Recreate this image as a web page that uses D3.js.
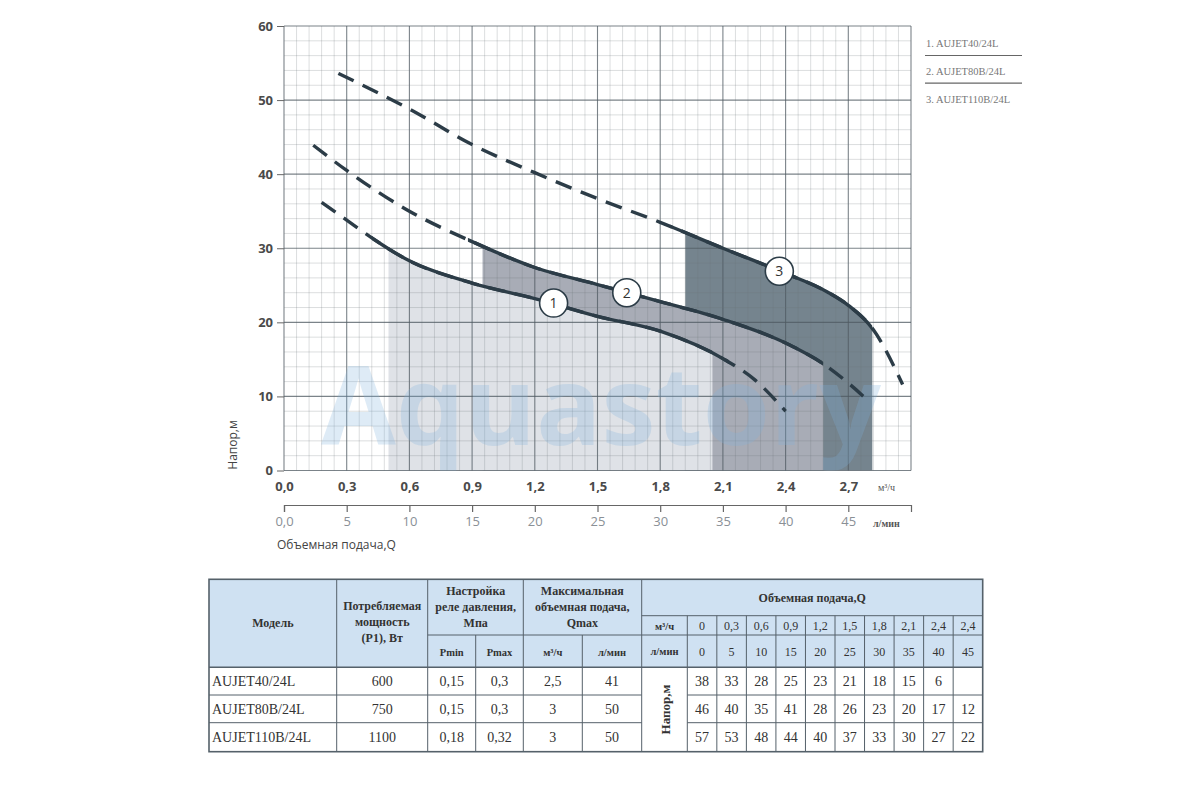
<!DOCTYPE html>
<html>
<head>
<meta charset="utf-8">
<script src="https://cdn.jsdelivr.net/npm/d3@7"></script>
<style>
body{margin:0;background:#fff;}
</style>
</head>
<body>
<svg width="1200" height="800"></svg>
<script>
// оси
var yTicks=[0,10,20,30,40,50,60];
var qTicks=[0,0.3,0.6,0.9,1.2,1.5,1.8,2.1,2.4,2.7];
var lTicks=[0,5,10,15,20,25,30,35,40,45];
var models=["AUJET40/24L","AUJET80B/24L","AUJET110B/24L"];

// кривые (м3/ч -> м)
var q1=[0.18,0.3,0.42,0.6,0.9,1.2,1.5,1.8,2.1,2.25,2.4];
var h1=[36.2,33.8,31.4,28.3,25.3,23.2,20.8,18.8,15.1,12.3,8.0];
var q2=[0.14,0.3,0.6,0.9,1.2,1.5,1.8,2.1,2.4,2.58,2.7,2.8];
var h2=[43.9,40.5,35.0,30.9,27.4,25.1,22.8,20.4,17.2,14.4,11.8,9.3];
var q3=[0.26,0.6,0.9,1.2,1.5,1.8,2.1,2.4,2.6,2.7,2.82,2.96];
var h3=[53.6,48.8,44.0,40.2,36.7,33.5,30.0,26.6,24.1,22.3,19.0,11.6];

// сплошной участок и рабочая зона
var solid1=[0.42,2.13], solid2=[0.88,2.58], solid3=[1.85,2.815];
var zone1=[0.5,2.05], zone2=[0.95,2.58], zone3=[1.92,2.815];
var markQ=[1.29,1.64,2.37];
var markH=[22.6,24.0,26.9];

// таблица
var power=["600","750","1100"];
var pmin=["0,15","0,15","0,18"];
var pmax=["0,3","0,3","0,32"];
var qmaxM3=["2,5","3","3"];
var qmaxL=["41","50","50"];
var tableQ=["0","0,3","0,6","0,9","1,2","1,5","1,8","2,1","2,4","2,4"];
var tableL=["0","5","10","15","20","25","30","35","40","45"];
var head40=["38","33","28","25","23","21","18","15","6",""];
var head80=["46","40","35","41","28","26","23","20","17","12"];
var head110=["57","53","48","44","40","37","33","30","27","22"];

var svg=d3.select("svg");
var x=d3.scaleLinear().domain([0,3]).range([284,911]);
var xl=d3.scaleLinear().domain([0,50]).range([284,911]);
var y=d3.scaleLinear().domain([0,60]).range([470.5,26]);
var lineColor="#2c3c47";
var zoneColor=["#dfe2e7","#a8acb6","#75848e"];
var curves=[
  {q:q1,h:h1,solid:solid1,zone:zone1},
  {q:q2,h:h2,solid:solid2,zone:zone2},
  {q:q3,h:h3,solid:solid3,zone:zone3}
];
var sans="'Open Sans', sans-serif";
var serif="'Liberation Serif', 'DejaVu Serif', serif";

var line=d3.line().x(function(d){return x(d[0]);}).y(function(d){return y(d[1]);}).curve(d3.curveMonotoneX);
var area=d3.area().x(function(d){return x(d[0]);}).y0(y(0)).y1(function(d){return y(d[1]);}).curve(d3.curveMonotoneX);

var defs=svg.append("defs");
defs.append("clipPath").attr("id","plotClip").append("rect")
  .attr("x",x(0)).attr("y",y(60)).attr("width",x(3)-x(0)).attr("height",y(0)-y(60));

// зоны: 3 внизу, 1 сверху
[2,1,0].forEach(function(i){
  var c=curves[i];
  defs.append("clipPath").attr("id","zone"+i).append("rect")
    .attr("x",x(c.zone[0])).attr("y",0)
    .attr("width",x(c.zone[1])-x(c.zone[0])).attr("height",y(0));
  svg.append("path").datum(d3.zip(c.q,c.h))
    .attr("d",area)
    .attr("fill",zoneColor[i])
    .attr("clip-path","url(#zone"+i+")");
});

// сетка
var grid=svg.append("g");
d3.range(0,51).forEach(function(i){
  grid.append("line")
    .attr("x1",x(i*0.06)).attr("x2",x(i*0.06))
    .attr("y1",y(0)).attr("y2",y(60))
    .attr("stroke",i%5==0?"#4f5a61":"#6b7479")
    .attr("stroke-opacity",i%5==0?0.75:0.3)
    .attr("stroke-width",i%5==0?1.1:0.8);
});
d3.range(0,31).forEach(function(i){
  grid.append("line")
    .attr("x1",x(0)).attr("x2",x(3))
    .attr("y1",y(i*2)).attr("y2",y(i*2))
    .attr("stroke",i%5==0?"#4f5a61":"#6b7479")
    .attr("stroke-opacity",i%5==0?0.75:0.3)
    .attr("stroke-width",i%5==0?1.1:0.8);
});

// водяной знак
svg.append("text")
  .attr("clip-path","url(#plotClip)")
  .attr("x",321).attr("y",445)
  .attr("textLength",560).attr("lengthAdjust","spacingAndGlyphs")
  .attr("font-family",sans).attr("font-size",110).attr("font-weight",700)
  .attr("fill","#80b3dc").attr("fill-opacity",0.26)
  .text("Aquastory");

// линии
curves.forEach(function(c,i){
  var pts=d3.zip(c.q,c.h);
  svg.append("path").datum(pts)
    .attr("d",line).attr("fill","none")
    .attr("stroke",lineColor).attr("stroke-width",3.4)
    .attr("stroke-dasharray","17,10");
  defs.append("clipPath").attr("id","solid"+i).append("rect")
    .attr("x",x(c.solid[0])).attr("y",0)
    .attr("width",x(c.solid[1])-x(c.solid[0])).attr("height",y(0));
  svg.append("path").datum(pts)
    .attr("d",line).attr("fill","none")
    .attr("stroke",lineColor).attr("stroke-width",3.4)
    .attr("clip-path","url(#solid"+i+")");
});

// номера кривых
markQ.forEach(function(q,i){
  svg.append("circle")
    .attr("cx",x(q)).attr("cy",y(markH[i])).attr("r",14)
    .attr("fill","#fff").attr("stroke",lineColor).attr("stroke-width",1.6);
  svg.append("text")
    .attr("x",x(q)).attr("y",y(markH[i])+5)
    .attr("text-anchor","middle")
    .attr("font-family",sans).attr("font-size",14).attr("fill","#333")
    .text(i+1);
});

// ось Y
var yAxis=svg.append("g").attr("transform","translate("+x(0)+",0)")
  .call(d3.axisLeft(y).tickValues(yTicks).tickSize(7).tickPadding(4));
yAxis.select(".domain").remove();
yAxis.selectAll("line").attr("stroke","#666");
yAxis.selectAll("text").attr("font-family",sans).attr("font-size",13)
  .attr("font-weight",700).attr("fill","#4a4a4a");

// ось м3/ч
var qAxis=svg.append("g").attr("transform","translate(0,"+y(0)+")")
  .call(d3.axisBottom(x).tickValues(qTicks).tickSize(0).tickPadding(11)
    .tickFormat(function(d){return d3.format(".1f")(d).replace(".",",");}));
qAxis.select(".domain").remove();
qAxis.selectAll("text").attr("font-family",sans).attr("font-size",13)
  .attr("font-weight",700).attr("fill","#4a4a4a");
svg.append("text").attr("x",878).attr("y",491)
  .attr("font-family",serif).attr("font-size",10).attr("fill","#555")
  .text("м³/ч");

// ось л/мин
var lAxis=svg.append("g").attr("transform","translate(0,505)")
  .call(d3.axisBottom(xl).tickValues(lTicks).tickSize(7).tickSizeOuter(7).tickPadding(5)
    .tickFormat(function(d){return d==0?"0,0":d;}));
lAxis.selectAll("line,path").attr("stroke","#666").attr("stroke-width",1.2);
lAxis.selectAll("text").attr("font-family",sans).attr("font-size",13).attr("fill","#8a9096");
svg.append("text").attr("x",873).attr("y",527)
  .attr("font-family",serif).attr("font-size",10).attr("font-weight",700).attr("fill","#555")
  .text("л/мин");

svg.append("text")
  .attr("transform","translate(237,445) rotate(-90)")
  .attr("text-anchor","middle")
  .attr("font-family",sans).attr("font-size",12).attr("fill","#444")
  .text("Напор,м");
svg.append("text").attr("x",277).attr("y",549)
  .attr("font-family",sans).attr("font-size",12).attr("fill","#444")
  .text("Объемная подача,Q");

// легенда
models.forEach(function(m,i){
  svg.append("text").attr("x",926).attr("y",47+i*28)
    .attr("font-family",serif).attr("font-size",10.5).attr("fill","#777")
    .text((i+1)+". "+m);
  if(i<2) svg.append("line").attr("x1",925).attr("x2",1022)
    .attr("y1",55.5+i*27.7).attr("y2",55.5+i*27.7)
    .attr("stroke","#666").attr("stroke-width",1.2);
});

// таблица
var T=svg.append("g");
var tL=209, tR=982.7;
var rows=[579.3,615.7,635,667.3,695,722.7,751.7];
var cols=[209,336.7,427.7,475.7,523.3,582.3,641.7,687.3];
var dataX=d3.range(0,11).map(function(i){return 687.3+i*(tR-687.3)/10;});
var borderC="#55616a";

T.append("rect").attr("x",tL).attr("y",rows[0]).attr("width",tR-tL).attr("height",rows[3]-rows[0])
  .attr("fill","#cfe1f2");

function hl(x1,x2,yy,w){T.append("line").attr("x1",x1).attr("x2",x2).attr("y1",yy).attr("y2",yy)
  .attr("stroke",borderC).attr("stroke-width",w||1);}
function vl(xx,y1,y2,w){T.append("line").attr("x1",xx).attr("x2",xx).attr("y1",y1).attr("y2",y2)
  .attr("stroke",borderC).attr("stroke-width",w||1);}

hl(cols[6],tR,rows[1]);
hl(cols[2],tR,rows[2]);
hl(tL,tR,rows[3],1.4);
hl(tL,cols[6],rows[4]); hl(cols[7],tR,rows[4]);
hl(tL,cols[6],rows[5]); hl(cols[7],tR,rows[5]);
vl(cols[1],rows[0],rows[6]);
vl(cols[2],rows[0],rows[6]);
vl(cols[3],rows[2],rows[6]);
vl(cols[4],rows[0],rows[6]);
vl(cols[5],rows[2],rows[6]);
vl(cols[6],rows[0],rows[6]);
dataX.slice(0,10).forEach(function(xx){vl(xx,rows[1],rows[6]);});
T.append("rect").attr("x",tL).attr("y",rows[0]).attr("width",tR-tL).attr("height",rows[6]-rows[0])
  .attr("fill","none").attr("stroke",borderC).attr("stroke-width",1.6);

function txt(tx,ty,s,bold,size,anchor){
  return T.append("text").attr("x",tx).attr("y",ty)
    .attr("text-anchor",anchor||"middle")
    .attr("font-family",serif).attr("font-size",size||12)
    .attr("font-weight",bold?700:400).attr("fill","#333")
    .text(s);
}
txt((cols[0]+cols[1])/2,627,"Модель",true);
txt((cols[1]+cols[2])/2,610,"Потребляемая",true);
txt((cols[1]+cols[2])/2,626,"мощность",true);
txt((cols[1]+cols[2])/2,642,"(P1), Вт",true);
txt(cols[3],595,"Настройка",true);
txt(cols[3],611,"реле давления,",true);
txt(cols[3],627,"Мпа",true);
txt(cols[5],595,"Максимальная",true);
txt(cols[5],611,"объемная подача,",true);
txt(cols[5],627,"Qmax",true);
txt((cols[2]+cols[3])/2,656,"Pmin",true,10.5);
txt((cols[3]+cols[4])/2,656,"Pmax",true,10.5);
txt((cols[4]+cols[5])/2,656,"м³/ч",true,10.5);
txt((cols[5]+cols[6])/2,656,"л/мин",true,10.5);
txt((cols[6]+tR)/2,602,"Объемная подача,Q",true);
txt((cols[6]+cols[7])/2,630,"м³/ч",true,10.5);
txt((cols[6]+cols[7])/2,655,"л/мин",true,10.5);
tableQ.forEach(function(s,i){txt((dataX[i]+dataX[i+1])/2,630,s,false,12);});
tableL.forEach(function(s,i){txt((dataX[i]+dataX[i+1])/2,656,s,false,12);});

T.append("text")
  .attr("transform","translate("+((cols[6]+cols[7])/2+5)+","+((rows[3]+rows[6])/2)+") rotate(-90)")
  .attr("text-anchor","middle")
  .attr("font-family",serif).attr("font-size",13).attr("font-weight",700).attr("fill","#333")
  .text("Напор,м");

var heads=[head40,head80,head110];
models.forEach(function(m,r){
  var ty=(rows[3+r]+rows[4+r])/2+5;
  txt(tL+3,ty,m,false,14,"start");
  txt((cols[1]+cols[2])/2,ty,power[r],false,14);
  txt((cols[2]+cols[3])/2,ty,pmin[r],false,14);
  txt((cols[3]+cols[4])/2,ty,pmax[r],false,14);
  txt((cols[4]+cols[5])/2,ty,qmaxM3[r],false,14);
  txt((cols[5]+cols[6])/2,ty,qmaxL[r],false,14);
  heads[r].forEach(function(s,i){txt((dataX[i]+dataX[i+1])/2,ty,s,false,14);});
});
</script>
</body>
</html>
